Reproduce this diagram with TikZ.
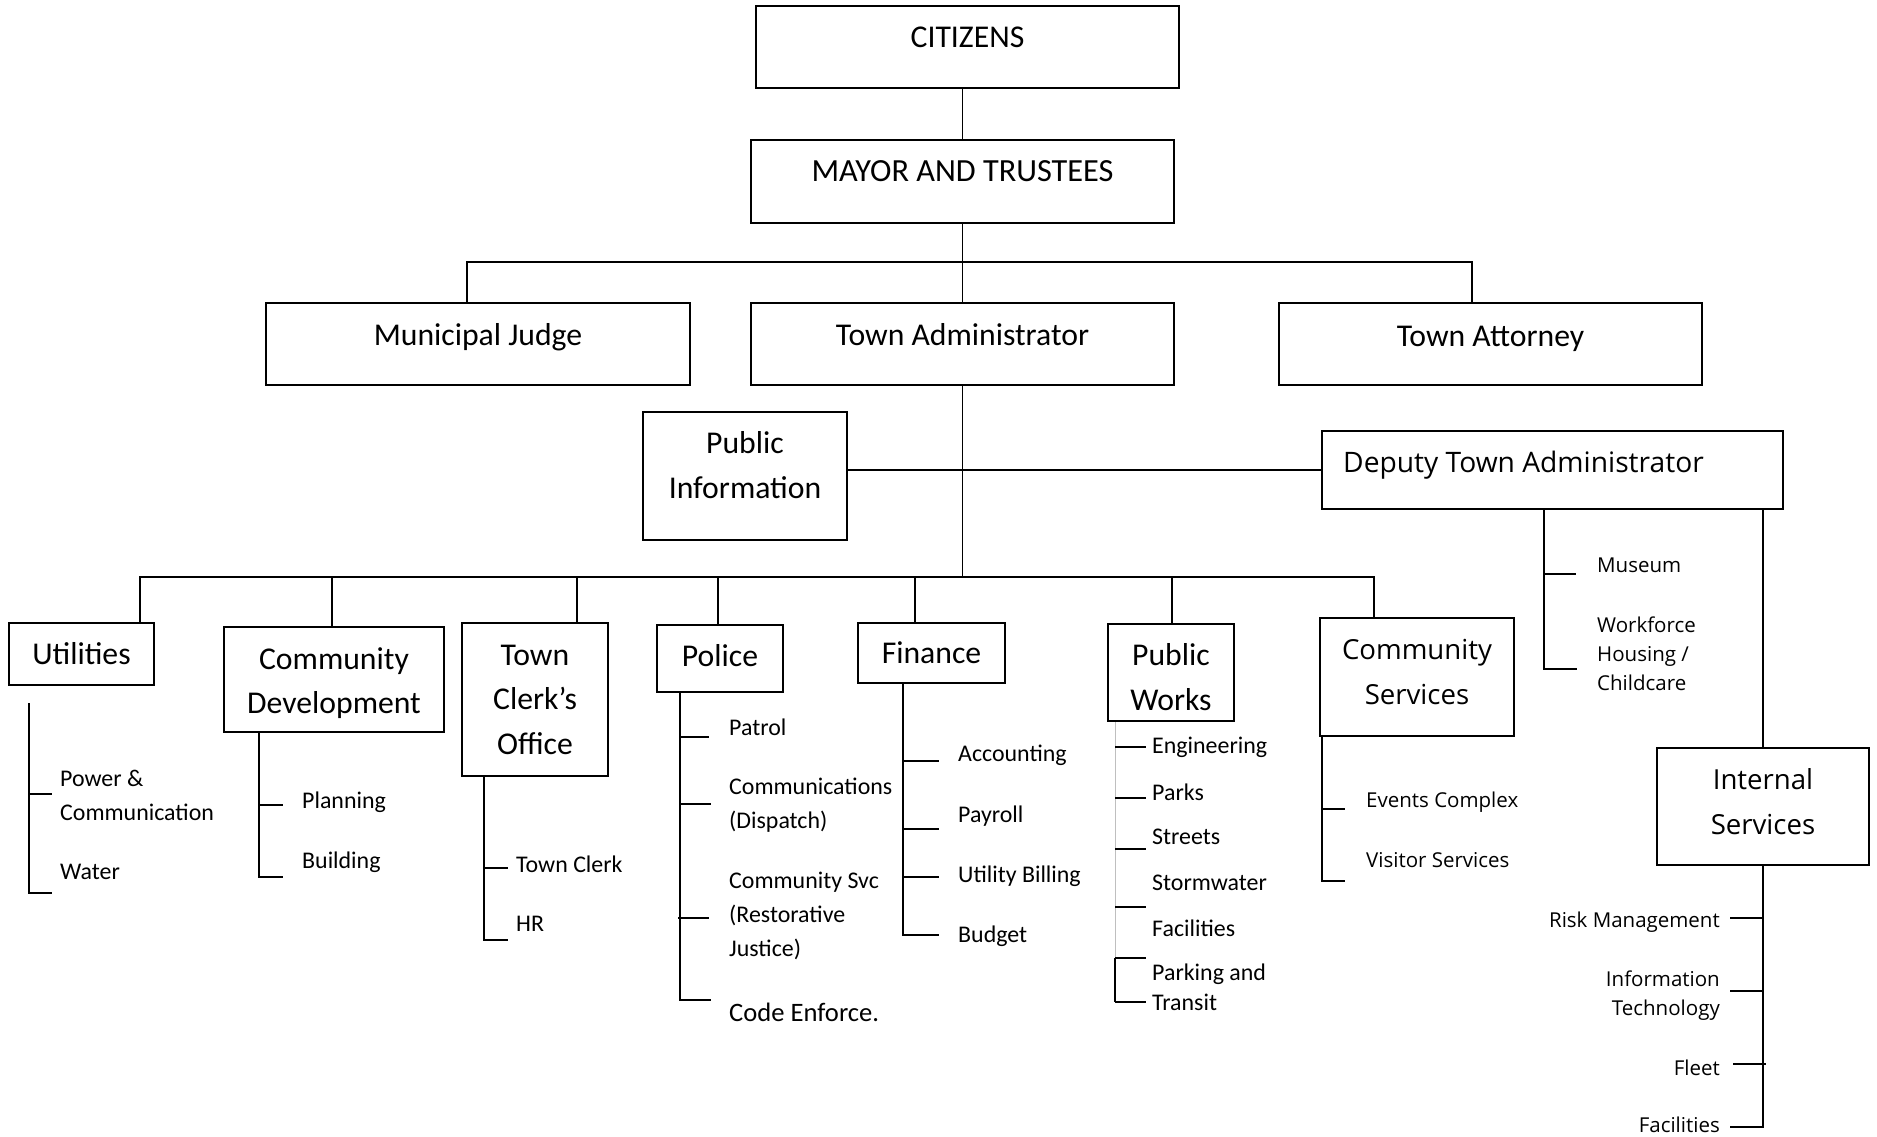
\documentclass[tikz,border=0pt]{standalone}
\usepackage{fontspec}
\setmainfont{Carlito}
\newfontfamily\osans{Open Sans}
\begin{document}
\begin{tikzpicture}[x=1pt,y=-1pt,
  box/.style={draw, line width=2pt, inner sep=0pt, fill=white},
  big/.style={font=\fontsize{31.7}{44.5}\selectfont, align=center, inner sep=0pt},
  small/.style={font=\fontsize{23.9}{34}\selectfont, align=left, inner sep=0pt, anchor=west},
  obig/.style={font=\osans\fontsize{27.6}{45}\selectfont, align=center, inner sep=0pt},
  osmall/.style={font=\osans\fontsize{20.5}{29}\selectfont, inner sep=0pt, anchor=west, align=left},
  conn/.style={line width=2pt},
  thin/.style={line width=1.4pt},
]
\useasboundingbox (0,0) rectangle (1877,1137);

% ---------- boxes ----------
\node[box, minimum width=423, minimum height=82] (cit) at (967.5,47) {};
\node[box, minimum width=423, minimum height=83] (may) at (962.5,181.5) {};
\node[box, minimum width=424, minimum height=82] (jud) at (478,344) {};
\node[box, minimum width=423, minimum height=82] (adm) at (962.5,344) {};
\node[box, minimum width=423, minimum height=82] (att) at (1490.5,344) {};
\node[box, minimum width=204, minimum height=128] (pio) at (745,476) {};
\node[box, minimum width=461, minimum height=78] (dep) at (1552.5,470) {};

\node[big] (citT) at (967.5,37) {CITIZENS};
\node[big, font=\fontsize{32.3}{44.5}\selectfont] (mayT) at (962.5,171) {MAYOR AND TRUSTEES};
\node[big] (judT) at (478,337.5) {Municipal Judge};
\node[big] (admT) at (962.5,335) {Town Administrator};
\node[big] (attT) at (1490.5,338.5) {Town Attorney};
\node[big] (pioT) at (745,465) {Public\\Information};
\node[obig, anchor=west, font=\osans\fontsize{28.2}{45}\selectfont] (depT) at (1343,465) {Deputy Town Administrator};

\node[box, big, minimum width=145, minimum height=62] (utl) at (81.5,654) {Utilities};
\node[box, minimum width=220, minimum height=105] (cdv) at (334,679.5) {};
\node[big] (cdvT) at (334,683) {Community\\Development};
\node[box, big, minimum width=146, minimum height=153] (clk) at (535,699.5) {Town\\Clerk’s\\Office};
\node[box, minimum width=126, minimum height=67] (pol) at (720,658.5) {};
\node[big] (polT) at (720,656) {Police};
\node[box, big, minimum width=147, minimum height=60] (fin) at (931.5,653) {Finance};
\node[box, minimum width=126, minimum height=97] (pwk) at (1171,672.5) {};
\node[big] (pwkT) at (1171,677) {Public\\Works};
\node[box, minimum width=194, minimum height=118] (csv) at (1417,677) {};
\node[obig] (csvT) at (1417,672.5) {Community\\Services};
\node[box, minimum width=212, minimum height=117] (isv) at (1763,806.5) {};
\node[obig] (isvT) at (1763,801.5) {Internal\\Services};

% ---------- top connectors ----------
\draw[thin] (may.north |- cit.south) -- (may.north);
\draw[thin] (may.south) -- (adm.north);
\coordinate (barL) at (467,262);
\coordinate (barR) at (1472,262);
\draw[conn] (barL |- jud.north) -- (barL) -- (barR) -- (barR |- att.north);
\coordinate (busC) at (962.5,577);
\draw[thin] (adm.south) -- (busC);
\draw[conn] (pio.east |- dep.west) -- (dep.west);

% ---------- bus ----------
\coordinate (busL) at (140,577);
\coordinate (busR) at (1374,577);
\draw[conn] (busL |- utl.north) -- (busL) -- (busR) -- (busR |- csv.north);
\coordinate (dCD) at (332,577);
\coordinate (dTC) at (577,577);
\coordinate (dPO) at (718,577);
\coordinate (dFI) at (915,577);
\coordinate (dPW) at (1172,577);
\draw[conn] (dCD) -- (dCD |- cdv.north);
\draw[conn] (dTC) -- (dTC |- clk.north);
\draw[conn] (dPO) -- (dPO |- pol.north);
\draw[conn] (dFI) -- (dFI |- fin.north);
\draw[conn] (dPW) -- (dPW |- pwk.north);

% ---------- Utilities ----------
\coordinate (uTop) at (29,703);
\draw[conn] (uTop) -- (29,893) -- (52,893);
\draw[conn] (29,794) -- (52,794);
\node[small] (u1) at (60,795) {Power \&\\Communication};
\node[small] (u2) at (60,872) {Water};

% ---------- Community Development ----------
\draw[conn] (cdv.south -| 259,0) -- (259,877) -- (283,877);
\draw[conn] (259,805) -- (283,805);
\node[small] (c1) at (302,802) {Planning};
\node[small] (c2) at (302,862) {Building};

% ---------- Town Clerk ----------
\draw[conn] (clk.south -| 484,0) -- (484,940) -- (508,940);
\draw[conn] (484,868) -- (508,868);
\node[small] (t1) at (516,864) {Town Clerk};
\node[small] (t2) at (516,924) {HR};

% ---------- Police ----------
\draw[conn] (pol.south -| 680,0) -- (680,1000) -- (711,1000);
\draw[conn] (680,737) -- (709,737);
\draw[conn] (680,804) -- (711,804);
\draw[conn] (678,918) -- (709,918);
\node[small] (p1) at (729,727) {Patrol};
\node[small] (p2) at (729,805) {Communications\\(Dispatch)};
\node[small] (p3) at (729,915.5) {Community Svc\\(Restorative\\Justice)};
\node[small, font=\fontsize{26.6}{34}\selectfont] (p4) at (729,1012) {Code Enforce.};

% ---------- Finance ----------
\draw[conn] (fin.south -| 903,0) -- (903,935) -- (939,935);
\draw[conn] (903,761) -- (939,761);
\draw[conn] (903,829) -- (939,829);
\draw[conn] (903,877) -- (939,877);
\node[small] (f1) at (958,755) {Accounting};
\node[small] (f2) at (958,816) {Payroll};
\node[small] (f3) at (958,876) {Utility Billing};
\node[small] (f4) at (958,936) {Budget};

% ---------- Public Works ----------
\draw[line width=1pt, black!25] (pwk.south -| 1115,0) -- (1115,958);
\draw[conn] (1115,958) -- (1115,1002);
\foreach \yy in {747,798,849,907,958,1002} \draw[conn] (1115,\yy) -- (1146,\yy);
\node[small] (w1) at (1152,747) {Engineering};
\node[small] (w2) at (1152,792) {Parks};
\node[small] (w3) at (1152,837) {Streets};
\node[small] (w4) at (1152,883) {Stormwater};
\node[small] (w5) at (1152,928) {Facilities};
\node[small, font=\fontsize{23.9}{30}\selectfont] (w6) at (1152,987.5) {Parking and\\Transit};

% ---------- Community Services ----------
\draw[conn] (csv.south -| 1322,0) -- (1322,881) -- (1345,881);
\draw[conn] (1322,809) -- (1345,809);
\node[osmall] (s1) at (1366,802) {Events Complex};
\node[osmall] (s2) at (1366,860) {Visitor Services};

% ---------- Deputy subs ----------
\draw[conn] (dep.south -| 1544,0) -- (1544,669) -- (1577,669);
\draw[conn] (1544,574) -- (1576,574);
\node[osmall] (d1) at (1597,565) {Museum};
\node[osmall] (d2) at (1597,654) {Workforce\\Housing /\\Childcare};
\draw[conn] (dep.south -| isv.north) -- (isv.north);

% ---------- Internal Services ----------
\draw[conn] (isv.south) -- (1763,1127) -- (1730,1127);
\draw[conn] (1730,918) -- (1763,918);
\draw[conn] (1730,991) -- (1763,991);
\draw[conn] (1733,1064) -- (1766,1064);
\node[osmall, anchor=east, align=right] (i1) at (1720,922) {Risk Management};
\node[osmall, anchor=east, align=right] (i2) at (1720,996) {Information\\Technology};
\node[osmall, anchor=east, align=right] (i3) at (1720,1068) {Fleet};
\node[osmall, anchor=east, align=right] (i4) at (1720,1125) {Facilities};
\end{tikzpicture}
\end{document}
